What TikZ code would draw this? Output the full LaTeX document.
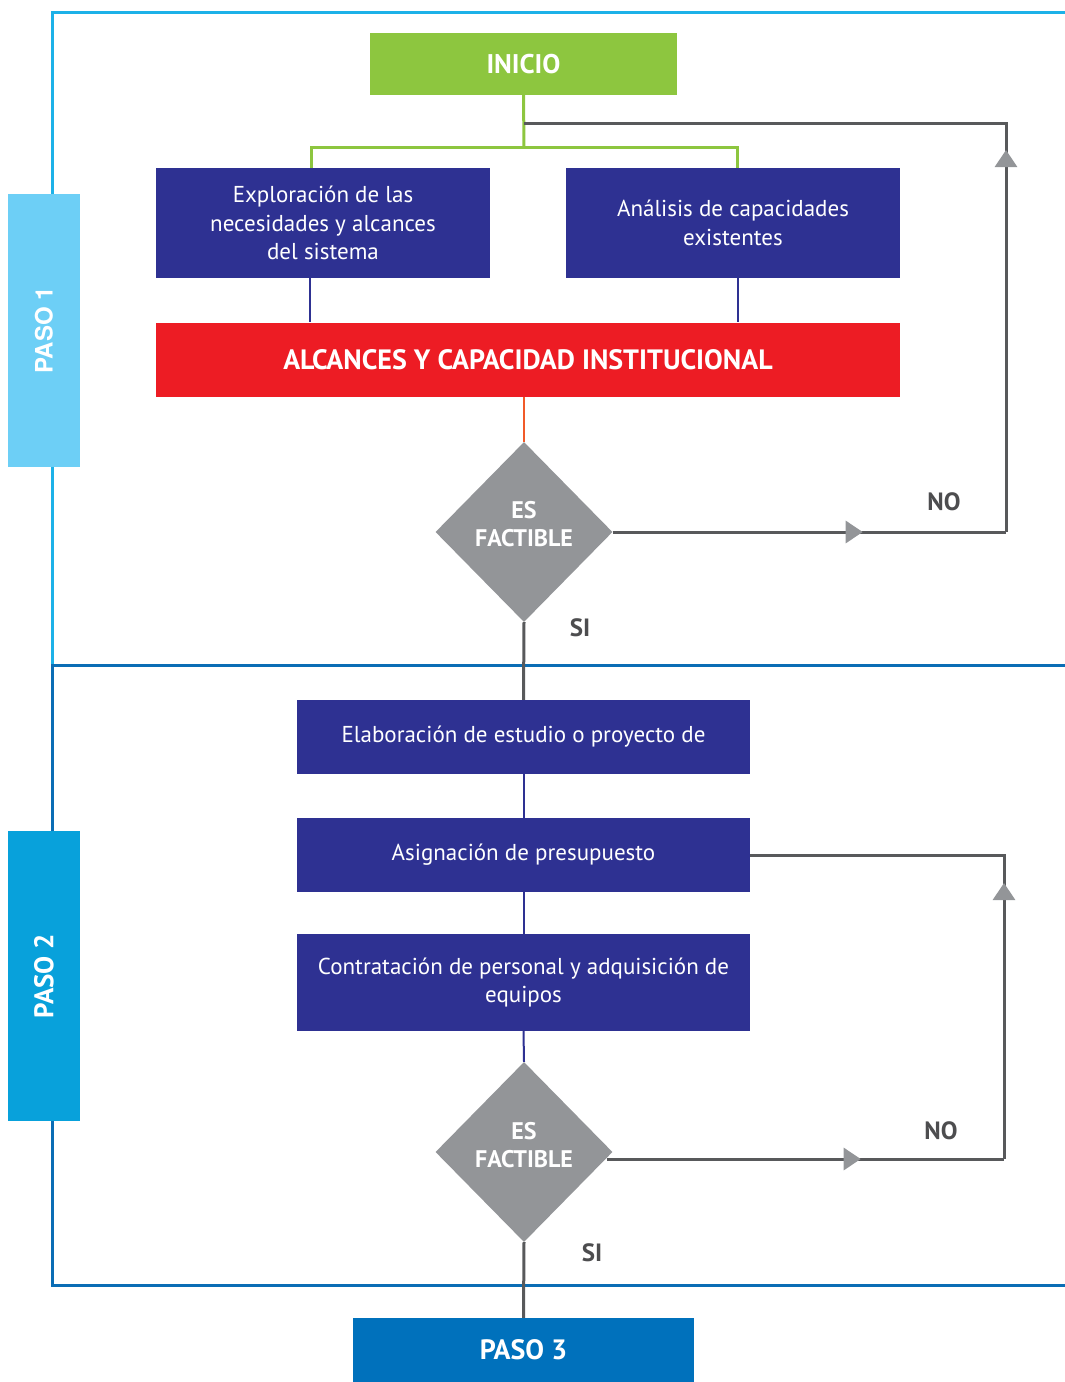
\documentclass[tikz,border=0pt]{standalone}
\usepackage{fontspec}
\setmainfont{PT Sans}
\newfontfamily\tabfont{TeX Gyre Heros}
\usetikzlibrary{positioning,shapes.geometric,arrows.meta,decorations.markings}

\definecolor{frameone}{HTML}{1CB1E8}
\definecolor{frametwo}{HTML}{0A6DB5}
\definecolor{tabone}{HTML}{6DCFF6}
\definecolor{tabtwo}{HTML}{08A1DB}
\definecolor{startgreen}{HTML}{8DC63F}
\definecolor{navy}{HTML}{2E3192}
\definecolor{alcred}{HTML}{ED1C24}
\definecolor{linkorange}{HTML}{F15A29}
\definecolor{factgrey}{HTML}{939598}
\definecolor{linkgrey}{HTML}{58595B}
\definecolor{answergrey}{HTML}{4D4D4F}
\definecolor{pasoblue}{HTML}{0071BC}

\tikzset{procbox/.style={fill=navy,text=white,minimum width=453pt,minimum height=74pt,align=center,inner sep=0pt,font=\fontsize{23}{28.5}\selectfont}}
\tikzset{startbox/.style={fill=startgreen,text=white,minimum width=307pt,minimum height=62pt,font=\bfseries\fontsize{27}{27}\selectfont}}
\tikzset{redbox/.style={fill=alcred,text=white,minimum width=744pt,minimum height=74pt,font=\bfseries\fontsize{28}{28}\selectfont}}
\tikzset{decision/.style={diamond,fill=factgrey,minimum width=177pt,minimum height=180pt,inner sep=0pt}}
\tikzset{decisiontext/.style={text=white,align=center,font=\bfseries\fontsize{24}{28}\selectfont}}
\tikzset{endbox/.style={fill=pasoblue,text=white,minimum width=341pt,minimum height=64pt,font=\bfseries\fontsize{28}{28}\selectfont}}
\tikzset{tabbox/.style={rotate=90,text=white,minimum height=72pt,inner sep=0pt}}
\tikzset{answer/.style={text=answergrey,font=\bfseries\fontsize{25}{25}\selectfont}}
\tikzset{greenline/.style={draw=startgreen,line width=3pt}}
\tikzset{navyline/.style={draw=navy,line width=2pt}}
\tikzset{orangeline/.style={draw=linkorange,line width=2pt}}
\tikzset{greyline/.style={draw=linkgrey,line width=3pt}}
\tikzset{midarrow/.style={postaction={decorate,decoration={markings,mark=at position #1 with {\arrow{Triangle[width=22pt,length=17pt,color=factgrey]}}}}}}

\begin{document}
\begin{tikzpicture}[x=1pt,y=-1pt]
	\useasboundingbox (0,0) rectangle (1065,1382);

	%% Frames of both steps
	\draw[draw=frameone,line width=3pt] (1065,12) -- (52,12) -- (52,665);
	\draw[draw=frametwo,line width=3pt] (1065,665) -- (52,665) -- (52,1285) -- (1065,1285);

	%% Step tabs
	\node[tabbox,fill=tabone,minimum width=273pt,font=\tabfont\bfseries\fontsize{24}{24}\selectfont] (paso1) at (44,330.5) {PASO 1};
	\node[tabbox,fill=tabtwo,minimum width=290pt,font=\bfseries\fontsize{27}{27}\selectfont] (paso2) at (44,976) {PASO 2};

	%% Step 1
	\node[startbox] (inicio) at (523.5,64) {INICIO};
	\node[procbox,minimum width=334pt,minimum height=110pt] (explora) at (323,223) {Exploración de las\\necesidades y alcances\\del sistema};
	\node[procbox,minimum width=334pt,minimum height=110pt] (analisis) at (733,223) {Análisis de capacidades\\existentes};
	\node[redbox] (alcances) at (528,359.5) {ALCANCES Y CAPACIDAD INSTITUCIONAL};
	\node[decision] (fact1) at (524,532) {};
	\node[decisiontext] (fact1txt) at ([yshift=8pt]fact1) {ES\\FACTIBLE};
	\node[answer] (no1) at (944,502) {NO};
	\node[answer] (si1) at (580,628) {SI};

	%% Step 2
	\node[procbox] (elabora) at (523.5,737) {Elaboración de estudio o proyecto de};
	\node[procbox] (asigna) at (523.5,855) {Asignación de presupuesto};
	\node[procbox,minimum height=97pt] (contrata) at (523.5,982.5) {Contratación de personal y adquisición de\\equipos};
	\node[decision] (fact2) at (524,1152) {};
	\node[decisiontext] (fact2txt) at ([yshift=7pt]fact2) {ES\\FACTIBLE};
	\node[answer] (no2) at (941,1131) {NO};
	\node[answer] (si2) at (592,1253) {SI};
	\node[endbox] (paso3) at (523.5,1350) {PASO 3};

	%% Connectors
	\coordinate (split) at (524,147);
	\coordinate (rejoin) at (524,123);
	\coordinate (loop1) at (1006,532);
	\coordinate (loop2) at (1004,1159);
	\draw[greenline] (inicio.south) -- (split);
	\draw[greenline] ([xshift=-12pt]explora.north) |- (split) -| ([xshift=4pt]analisis.north);
	\draw[navyline] ([xshift=-13pt]explora.south) -- ([xshift=-13pt]explora.south |- alcances.north);
	\draw[navyline] ([xshift=5pt]analisis.south) -- ([xshift=5pt]analisis.south |- alcances.north);
	\draw[orangeline] (alcances.south -| fact1.north) -- (fact1.north);
	\draw[greyline,midarrow=250pt] (fact1.east) -- (loop1);
	\draw[greyline,midarrow=382pt] (loop1) |- (rejoin);
	\draw[greyline] (fact1.south) -- (elabora.north);
	\draw[navyline] (elabora.south) -- (asigna.north);
	\draw[navyline] (asigna.south) -- (contrata.north);
	\draw[navyline] (contrata.south) -- (fact2.north);
	\draw[greyline,midarrow=254pt] ([xshift=-6pt,yshift=-7pt]fact2.east) -- (loop2);
	\draw[greyline,midarrow=276pt] (loop2) |- (asigna.east);
	\draw[greyline] (fact2.south) -- (paso3.north);

\end{tikzpicture}
\end{document}
